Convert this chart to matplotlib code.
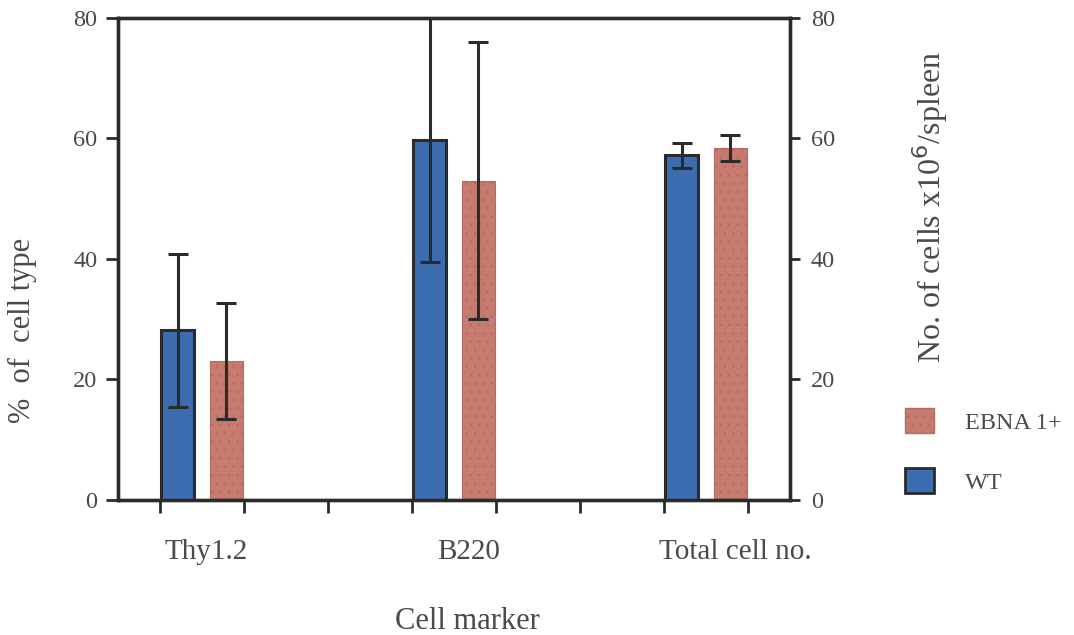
import matplotlib.pyplot as plt
import matplotlib.patches as mpatches
import numpy as np

plt.rcParams['font.family'] = ['Liberation Serif', 'DejaVu Serif']
plt.rcParams['hatch.linewidth'] = 0.6

# data
groups = ['Thy1.2', 'B220', 'Total cell no.']
wt_mean = [28.2, 59.8, 57.2]
wt_err = [12.7, 20.3, 2.1]
ebna_mean = [23.1, 53.0, 58.4]
ebna_err = [9.6, 23.0, 2.1]
yticks = [0, 20, 40, 60, 80]

txt = '#4a4a4a'
line = '#2b2b2b'
blue = '#3b6db0'
salmon = '#c67b6e'
salmon_edge = '#b56c60'

fig = plt.figure(figsize=(10.74, 6.35), dpi=100)
ax = fig.add_axes([0.1099, 0.2126, 0.6257, 0.7591])

centers = np.array([1.0, 4.0, 7.0])
off = 0.29
width = 0.40

ax.bar(centers - off, wt_mean, width, color=blue, edgecolor=line, linewidth=2.2, zorder=2)
ax.bar(centers + off, ebna_mean, width, color=salmon, edgecolor=salmon_edge,
       linewidth=0.8, hatch='..', zorder=2)
ax.errorbar(centers - off, wt_mean, yerr=wt_err, fmt='none', ecolor=line,
            elinewidth=2.2, capsize=7.5, capthick=2.2, zorder=3)
ax.errorbar(centers + off, ebna_mean, yerr=ebna_err, fmt='none', ecolor=line,
            elinewidth=2.2, capsize=7.5, capthick=2.2, zorder=3)

ax.set_xlim(0, 8)
ax.set_ylim(0, 80)
ax.set_xticks(np.arange(0.5, 8, 1.0))
ax.set_xticklabels([])
ax.set_yticks(yticks)
ax.set_yticklabels([str(v) for v in yticks], fontsize=17.5, color=txt)
ax.tick_params(axis='both', direction='out', length=9, width=2, color=line, pad=6)

for s in ax.spines.values():
    s.set_linewidth(2.4)
    s.set_color(line)

ax2 = ax.twinx()
ax2.set_ylim(0, 80)
ax2.set_yticks(yticks)
ax2.set_yticklabels([str(v) for v in yticks], fontsize=17.5, color=txt)
ax2.tick_params(axis='y', direction='out', length=7, width=2, color=line, pad=8)
for s in ax2.spines.values():
    s.set_linewidth(2.4)
    s.set_color(line)

# group labels
label_x = [1.05, 4.17, 7.35]
for x, g in zip(label_x, groups):
    ax.text(x, -0.08, g, transform=ax.get_xaxis_transform(), ha='center', va='top',
            fontsize=21, color=txt)

fig.text(0.435, 0.022, 'Cell marker', ha='center', va='center', fontsize=22, color=txt)
fig.text(0.021, 0.48, '%  of  cell type', rotation=90, ha='center', va='center',
         fontsize=22, color=txt)
fig.text(0.866, 0.674, 'No. of cells x10$^6$/spleen', rotation=90, ha='center',
         va='center', fontsize=23, color=txt)

handles = [mpatches.Patch(facecolor=salmon, edgecolor=salmon_edge, hatch='..', label='EBNA 1+'),
           mpatches.Patch(facecolor=blue, edgecolor=line, linewidth=2, label='WT')]
fig.legend(handles=handles, loc='center left', bbox_to_anchor=(0.822, 0.29),
           frameon=False, fontsize=17.5, handlelength=1.2, handleheight=1.2,
           labelspacing=1.4, handletextpad=1.3, labelcolor=txt)

fig.savefig('out.png', dpi=100)
